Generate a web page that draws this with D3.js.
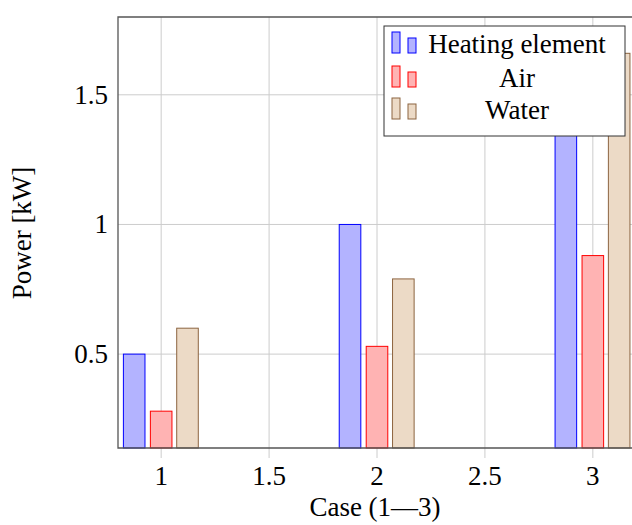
<!DOCTYPE html>
<html>
<head>
<meta charset="utf-8">
<script src="https://cdn.jsdelivr.net/npm/d3@7"></script>
<style>
  body { margin: 0; background: #fff; }
  text { font-family: "Liberation Serif", "DejaVu Serif", serif; fill: #000; }
</style>
</head>
<body>
<div id="chart"></div>
<script>
// data
var cases = [1, 2, 3];
var heating = [0.5, 1.0, 1.7];
var air = [0.28, 0.53, 0.88];
var water = [0.6, 0.79, 1.66];
var xTicks = [1, 1.5, 2, 2.5, 3];
var yTicks = [0.5, 1, 1.5];

var series = [
  { name: "Heating element", values: heating, fill: "#b3b3ff", stroke: "#0000ff", offset: -0.125 },
  { name: "Air", values: air, fill: "#ffb3b3", stroke: "#ff0000", offset: 0 },
  { name: "Water", values: water, fill: "#ecdac6", stroke: "#8c6440", offset: 0.122 }
];

var W = 632, H = 525;
var pLeft = 118, pTop = 17, pRight = 636, pBottom = 448;
var barW = 0.1;
var fs = 27;

var x = d3.scaleLinear().domain([0.8, 3.2]).range([pLeft, pRight]);
var y = d3.scaleLinear().domain([0.138, 1.8]).range([pBottom, pTop]);

var svg = d3.select("#chart").append("svg")
  .attr("width", W)
  .attr("height", H);

// grid
svg.append("g").selectAll("line").data(xTicks).enter().append("line")
  .attr("x1", function(d) { return x(d); })
  .attr("x2", function(d) { return x(d); })
  .attr("y1", pTop).attr("y2", pBottom + 10)
  .attr("stroke", "#cccccc").attr("stroke-width", 1);

svg.append("g").selectAll("line").data(yTicks).enter().append("line")
  .attr("x1", pLeft).attr("x2", pRight)
  .attr("y1", function(d) { return y(d); })
  .attr("y2", function(d) { return y(d); })
  .attr("stroke", "#cccccc").attr("stroke-width", 1);

// bars
series.forEach(function(s) {
  svg.append("g").selectAll("rect").data(cases).enter().append("rect")
    .attr("x", function(d) { return x(d + s.offset - barW / 2); })
    .attr("width", x(barW) - x(0))
    .attr("y", function(d, i) { return y(s.values[i]); })
    .attr("height", function(d, i) { return pBottom - y(s.values[i]); })
    .attr("fill", s.fill)
    .attr("stroke", s.stroke)
    .attr("stroke-width", 1);
});

// axis frame
svg.append("path")
  .attr("d", "M" + pRight + "," + pTop + "H" + pLeft + "V" + pBottom + "H" + pRight)
  .attr("fill", "none")
  .attr("stroke", "#555555")
  .attr("stroke-width", 1.3);

// tick labels
svg.append("g").selectAll("text").data(xTicks).enter().append("text")
  .attr("x", function(d) { return x(d); })
  .attr("y", 485)
  .attr("text-anchor", "middle")
  .attr("font-size", fs)
  .text(function(d) { return d; });

svg.append("g").selectAll("text").data(yTicks).enter().append("text")
  .attr("x", 108)
  .attr("y", function(d) { return y(d); })
  .attr("dy", "0.33em")
  .attr("text-anchor", "end")
  .attr("font-size", fs)
  .text(function(d) { return d; });

// axis labels
svg.append("text")
  .attr("x", 375)
  .attr("y", 516)
  .attr("text-anchor", "middle")
  .attr("font-size", fs)
  .text("Case (1\u20143)");

svg.append("text")
  .attr("transform", "translate(31,233) rotate(-90)")
  .attr("text-anchor", "middle")
  .attr("font-size", fs)
  .text("Power [kW]");

// legend
var lg = svg.append("g");
lg.append("rect")
  .attr("x", 384).attr("y", 26)
  .attr("width", 241).attr("height", 110)
  .attr("fill", "#fff")
  .attr("stroke", "#333333")
  .attr("stroke-width", 1);

var rowY = [53, 87, 119];
series.forEach(function(s, i) {
  var base = rowY[i];
  lg.append("rect")
    .attr("x", 392).attr("y", base - 21)
    .attr("width", 8).attr("height", 21)
    .attr("fill", s.fill).attr("stroke", s.stroke);
  lg.append("rect")
    .attr("x", 408).attr("y", base - 15)
    .attr("width", 8).attr("height", 15)
    .attr("fill", s.fill).attr("stroke", s.stroke);
  lg.append("text")
    .attr("x", 517)
    .attr("y", base)
    .attr("text-anchor", "middle")
    .attr("font-size", fs)
    .text(s.name);
});
</script>
</body>
</html>
